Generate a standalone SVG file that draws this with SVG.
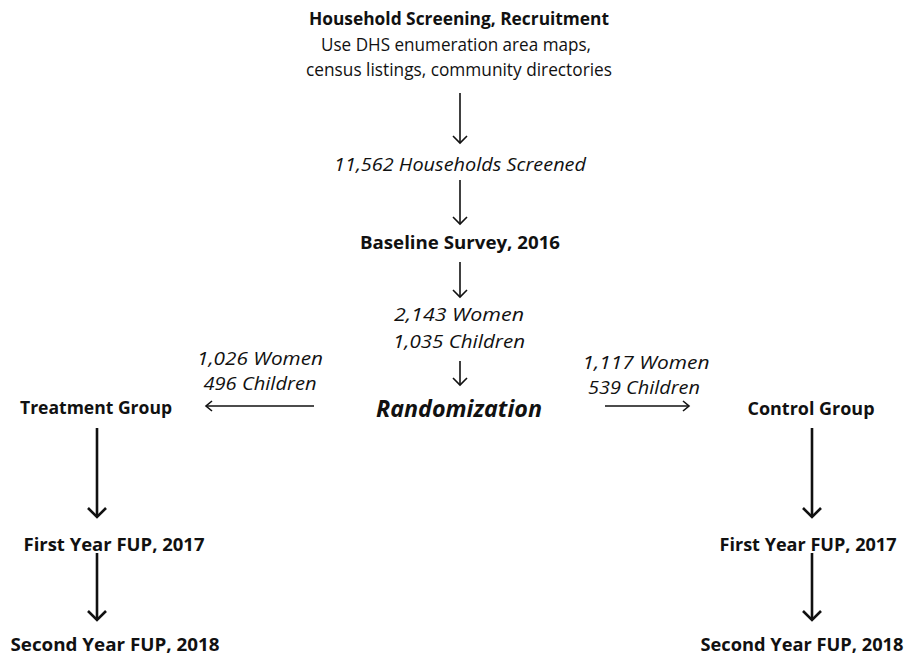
<svg xmlns="http://www.w3.org/2000/svg" width="909" height="656" viewBox="0 0 909 656">
<defs>
<style>
text{font-family:"Open Sans","Liberation Sans",sans-serif;fill:#111;text-anchor:middle}
.b{font-weight:bold;font-size:18px}
.r{font-size:17.5px}
.i{font-style:italic;font-size:17.5px}
.bi{font-weight:bold;font-style:italic;font-size:23px}
.thin{stroke:#111;stroke-width:1.6;fill:none}
.thick{stroke:#111;stroke-width:2.6;fill:none}
</style>
<marker id="ah" markerUnits="userSpaceOnUse" markerWidth="20" markerHeight="20" refX="10" refY="10" orient="auto" overflow="visible">
<path d="M3,3 L10,10 L3,17" stroke="#111" stroke-width="1.6" fill="none"/>
</marker>
<marker id="ahs" markerUnits="userSpaceOnUse" markerWidth="20" markerHeight="20" refX="10" refY="10" orient="auto" overflow="visible">
<path d="M4,5 L10,10 L4,15" stroke="#111" stroke-width="1.6" fill="none"/>
</marker>
<marker id="aht" markerUnits="userSpaceOnUse" markerWidth="24" markerHeight="24" refX="12" refY="12" orient="auto" overflow="visible">
<path d="M3,3 L12,12 L3,21" stroke="#111" stroke-width="2.6" fill="none"/>
</marker>
</defs>
<rect width="909" height="656" fill="#fff"/>
<g id="connectors">
<line class="thin" x1="460" y1="93" x2="460" y2="143" marker-end="url(#ah)"/>
<line class="thin" x1="460" y1="180" x2="460" y2="224" marker-end="url(#ah)"/>
<line class="thin" x1="460" y1="262" x2="460" y2="297" marker-end="url(#ah)"/>
<line class="thin" x1="460" y1="361" x2="460" y2="385" marker-end="url(#ah)"/>
<line class="thin" x1="314" y1="406" x2="206" y2="406" marker-end="url(#ahs)"/>
<line class="thin" x1="605" y1="406" x2="689" y2="406" marker-end="url(#ahs)"/>
<line class="thick" x1="97" y1="428" x2="97" y2="517" marker-end="url(#aht)"/>
<line class="thick" x1="97" y1="553" x2="97" y2="620" marker-end="url(#aht)"/>
<line class="thick" x1="812" y1="428" x2="812" y2="517" marker-end="url(#aht)"/>
<line class="thick" x1="812" y1="553" x2="812" y2="620" marker-end="url(#aht)"/>
</g>
<g id="recruitment">
<text class="b" x="459" y="25" font-size="18.5" textLength="300" lengthAdjust="spacingAndGlyphs">Household Screening, Recruitment</text>
<text class="r" x="456" y="51" textLength="270" lengthAdjust="spacingAndGlyphs">Use DHS enumeration area maps,</text>
<text class="r" x="459" y="76" textLength="306" lengthAdjust="spacingAndGlyphs">census listings, community directories</text>
</g>
<g id="screened">
<text class="i" x="460" y="171" textLength="252" lengthAdjust="spacingAndGlyphs">11,562 Households Screened</text>
</g>
<g id="baseline">
<text class="b" x="460" y="249" textLength="200" lengthAdjust="spacingAndGlyphs">Baseline Survey, 2016</text>
</g>
<g id="baseline-counts">
<text class="i" x="459" y="321" textLength="130" lengthAdjust="spacingAndGlyphs">2,143 Women</text>
<text class="i" x="459" y="348" textLength="132" lengthAdjust="spacingAndGlyphs">1,035 Children</text>
</g>
<g id="randomization">
<text class="bi" x="459" y="417" textLength="166" lengthAdjust="spacingAndGlyphs">Randomization</text>
</g>
<g id="treatment-counts">
<text class="i" x="260" y="365" textLength="126" lengthAdjust="spacingAndGlyphs">1,026 Women</text>
<text class="i" x="260" y="390" textLength="113" lengthAdjust="spacingAndGlyphs">496 Children</text>
</g>
<g id="control-counts">
<text class="i" x="646" y="369" textLength="127" lengthAdjust="spacingAndGlyphs">1,117 Women</text>
<text class="i" x="644" y="394" textLength="112" lengthAdjust="spacingAndGlyphs">539 Children</text>
</g>
<g id="treatment">
<text class="b" x="96" y="414" textLength="152" lengthAdjust="spacingAndGlyphs">Treatment Group</text>
</g>
<g id="control">
<text class="b" x="811" y="415" textLength="127" lengthAdjust="spacingAndGlyphs">Control Group</text>
</g>
<g id="treatment-fup1">
<text class="b" x="114" y="551" textLength="181" lengthAdjust="spacingAndGlyphs">First Year FUP, 2017</text>
</g>
<g id="treatment-fup2">
<text class="b" x="115" y="651" textLength="209" lengthAdjust="spacingAndGlyphs">Second Year FUP, 2018</text>
</g>
<g id="control-fup1">
<text class="b" x="808" y="551" textLength="177" lengthAdjust="spacingAndGlyphs">First Year FUP, 2017</text>
</g>
<g id="control-fup2">
<text class="b" x="802" y="651" textLength="203" lengthAdjust="spacingAndGlyphs">Second Year FUP, 2018</text>
</g>
</svg>
